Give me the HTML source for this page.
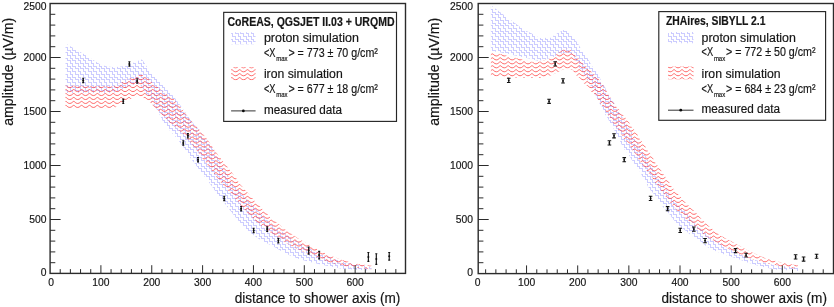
<!DOCTYPE html>
<html><head><meta charset="utf-8"><title>LDF comparison</title>
<style>html,body{margin:0;padding:0;background:#fff;}svg{display:block;will-change:transform;}text{font-family:"Liberation Sans",sans-serif;fill:#161616;stroke:#161616;stroke-width:0.18px;}</style>
</head><body>
<svg width="834" height="307" viewBox="0 0 834 307">
<rect x="0" y="0" width="834" height="307" fill="#ffffff"/>
<defs>
<path id="st" d="M0,0h2.625v2.7h2.625v2.7h2.625v2.7h2.625v2.7h2.625v2.7h2.625v2.7h2.625v2.7h2.625v2.7h2.625v2.7h2.625v2.7h2.625v2.7h2.625v2.7h2.625v2.7h2.625v2.7h2.625v2.7h2.625v2.7h2.625v2.7h2.625v2.7h2.625v2.7h2.625v2.7h2.625v2.7h2.625v2.7h2.625v2.7h2.625v2.7h2.625v2.7h2.625v2.7h2.625v2.7h2.625v2.7h2.625v2.7h2.625v2.7h2.625v2.7h2.625v2.7h2.625v2.7h2.625v2.7h2.625v2.7h2.625v2.7h2.625v2.7h2.625v2.7h2.625v2.7h2.625v2.7h2.625v2.7h2.625v2.7h2.625v2.7h2.625v2.7h2.625v2.7h2.625v2.7h2.625v2.7h2.625v2.7h2.625v2.7h2.625v2.7h2.625v2.7h2.625v2.7h2.625v2.7h2.625v2.7h2.625v2.7h2.625v2.7h2.625v2.7h2.625v2.7h2.625v2.7h2.625v2.7h2.625v2.7h2.625v2.7h2.625v2.7h2.625v2.7h2.625v2.7h2.625v2.7h2.625v2.7h2.625v2.7h2.625v2.7h2.625v2.7h2.625v2.7h2.625v2.7h2.625v2.7h2.625v2.7h2.625v2.7h2.625v2.7h2.625v2.7h2.625v2.7h2.625v2.7h2.625v2.7h2.625v2.7h2.625v2.7h2.625v2.7h2.625v2.7h2.625v2.7h2.625v2.7h2.625v2.7h2.625v2.7h2.625v2.7h2.625v2.7h2.625v2.7h2.625v2.7h2.625v2.7h2.625v2.7h2.625v2.7h2.625v2.7h2.625v2.7h2.625v2.7h2.625v2.7h2.625v2.7h2.625v2.7h2.625v2.7h2.625v2.7h2.625v2.7h2.625v2.7h2.625v2.7"/>
<path id="wv" d="M0,-1.05c1.11,0 1.66,2.10 3.95,2.10c2.29,0 2.84,-2.10 3.95,-2.10c1.11,0 1.66,2.10 3.95,2.10c2.29,0 2.84,-2.10 3.95,-2.10c1.11,0 1.66,2.10 3.95,2.10c2.29,0 2.84,-2.10 3.95,-2.10c1.11,0 1.66,2.10 3.95,2.10c2.29,0 2.84,-2.10 3.95,-2.10c1.11,0 1.66,2.10 3.95,2.10c2.29,0 2.84,-2.10 3.95,-2.10c1.11,0 1.66,2.10 3.95,2.10c2.29,0 2.84,-2.10 3.95,-2.10c1.11,0 1.66,2.10 3.95,2.10c2.29,0 2.84,-2.10 3.95,-2.10c1.11,0 1.66,2.10 3.95,2.10c2.29,0 2.84,-2.10 3.95,-2.10c1.11,0 1.66,2.10 3.95,2.10c2.29,0 2.84,-2.10 3.95,-2.10c1.11,0 1.66,2.10 3.95,2.10c2.29,0 2.84,-2.10 3.95,-2.10c1.11,0 1.66,2.10 3.95,2.10c2.29,0 2.84,-2.10 3.95,-2.10c1.11,0 1.66,2.10 3.95,2.10c2.29,0 2.84,-2.10 3.95,-2.10c1.11,0 1.66,2.10 3.95,2.10c2.29,0 2.84,-2.10 3.95,-2.10c1.11,0 1.66,2.10 3.95,2.10c2.29,0 2.84,-2.10 3.95,-2.10c1.11,0 1.66,2.10 3.95,2.10c2.29,0 2.84,-2.10 3.95,-2.10c1.11,0 1.66,2.10 3.95,2.10c2.29,0 2.84,-2.10 3.95,-2.10c1.11,0 1.66,2.10 3.95,2.10c2.29,0 2.84,-2.10 3.95,-2.10c1.11,0 1.66,2.10 3.95,2.10c2.29,0 2.84,-2.10 3.95,-2.10c1.11,0 1.66,2.10 3.95,2.10c2.29,0 2.84,-2.10 3.95,-2.10c1.11,0 1.66,2.10 3.95,2.10c2.29,0 2.84,-2.10 3.95,-2.10c1.11,0 1.66,2.10 3.95,2.10c2.29,0 2.84,-2.10 3.95,-2.10c1.11,0 1.66,2.10 3.95,2.10c2.29,0 2.84,-2.10 3.95,-2.10c1.11,0 1.66,2.10 3.95,2.10c2.29,0 2.84,-2.10 3.95,-2.10c1.11,0 1.66,2.10 3.95,2.10c2.29,0 2.84,-2.10 3.95,-2.10c1.11,0 1.66,2.10 3.95,2.10c2.29,0 2.84,-2.10 3.95,-2.10c1.11,0 1.66,2.10 3.95,2.10c2.29,0 2.84,-2.10 3.95,-2.10c1.11,0 1.66,2.10 3.95,2.10c2.29,0 2.84,-2.10 3.95,-2.10c1.11,0 1.66,2.10 3.95,2.10c2.29,0 2.84,-2.10 3.95,-2.10c1.11,0 1.66,2.10 3.95,2.10c2.29,0 2.84,-2.10 3.95,-2.10c1.11,0 1.66,2.10 3.95,2.10c2.29,0 2.84,-2.10 3.95,-2.10c1.11,0 1.66,2.10 3.95,2.10c2.29,0 2.84,-2.10 3.95,-2.10c1.11,0 1.66,2.10 3.95,2.10c2.29,0 2.84,-2.10 3.95,-2.10c1.11,0 1.66,2.10 3.95,2.10c2.29,0 2.84,-2.10 3.95,-2.10c1.11,0 1.66,2.10 3.95,2.10c2.29,0 2.84,-2.10 3.95,-2.10c1.11,0 1.66,2.10 3.95,2.10c2.29,0 2.84,-2.10 3.95,-2.10c1.11,0 1.66,2.10 3.95,2.10c2.29,0 2.84,-2.10 3.95,-2.10c1.11,0 1.66,2.10 3.95,2.10c2.29,0 2.84,-2.10 3.95,-2.10c1.11,0 1.66,2.10 3.95,2.10c2.29,0 2.84,-2.10 3.95,-2.10c1.11,0 1.66,2.10 3.95,2.10c2.29,0 2.84,-2.10 3.95,-2.10c1.11,0 1.66,2.10 3.95,2.10c2.29,0 2.84,-2.10 3.95,-2.10c1.11,0 1.66,2.10 3.95,2.10c2.29,0 2.84,-2.10 3.95,-2.10c1.11,0 1.66,2.10 3.95,2.10c2.29,0 2.84,-2.10 3.95,-2.10c1.11,0 1.66,2.10 3.95,2.10c2.29,0 2.84,-2.10 3.95,-2.10c1.11,0 1.66,2.10 3.95,2.10c2.29,0 2.84,-2.10 3.95,-2.10"/>
</defs>
<clipPath id="c1"><polygon points="65.5,43.6 85.0,54.8 100.0,64.3 106.0,66.3 114.0,67.3 126.4,65.9 132.9,63.0 139.0,60.4 141.9,59.6 144.4,62.8 146.6,66.2 149.5,70.9 154.5,76.7 158.2,80.1 163.9,86.6 169.7,92.3 174.0,96.7 187.0,114.5 192.5,122.5 199.6,130.8 206.0,139.1 208.6,142.5 213.9,150.8 218.5,159.1 220.2,162.5 225.0,170.8 230.2,179.1 233.0,182.9 239.5,190.8 246.0,198.7 249.5,202.5 258.0,210.8 265.5,219.1 270.5,222.5 281.0,230.8 292.5,239.1 300.0,243.0 307.0,247.0 315.0,251.3 324.0,255.3 336.0,259.5 350.0,263.5 371.5,267.0 371.5,270.8 342.0,268.7 328.0,266.0 314.0,263.0 299.5,259.3 289.5,255.3 281.5,251.3 274.4,247.0 266.4,243.0 259.0,239.1 247.8,230.8 240.0,222.5 236.9,219.1 230.4,210.8 224.0,202.5 220.5,198.7 215.0,190.8 209.5,182.9 206.6,179.1 200.0,170.8 194.0,162.5 191.2,159.1 186.1,150.8 180.0,142.5 177.6,139.1 170.0,130.8 163.5,122.5 158.9,113.3 155.3,106.8 149.5,99.6 144.0,90.0 140.0,84.5 136.0,84.0 130.0,86.0 122.0,89.5 114.0,92.5 107.0,93.0 65.5,93.0"/></clipPath>
<g clip-path="url(#c1)" fill="none" stroke="#ccccff" stroke-width="1" shape-rendering="crispEdges">
<use href="#st" x="-171.28" y="41.90"/>
<use href="#st" x="-166.03" y="41.90"/>
<use href="#st" x="-160.78" y="41.90"/>
<use href="#st" x="-155.53" y="41.90"/>
<use href="#st" x="-150.28" y="41.90"/>
<use href="#st" x="-145.03" y="41.90"/>
<use href="#st" x="-139.78" y="41.90"/>
<use href="#st" x="-134.53" y="41.90"/>
<use href="#st" x="-129.28" y="41.90"/>
<use href="#st" x="-124.03" y="41.90"/>
<use href="#st" x="-118.78" y="41.90"/>
<use href="#st" x="-113.53" y="41.90"/>
<use href="#st" x="-108.28" y="41.90"/>
<use href="#st" x="-103.03" y="41.90"/>
<use href="#st" x="-97.78" y="41.90"/>
<use href="#st" x="-92.53" y="41.90"/>
<use href="#st" x="-87.28" y="41.90"/>
<use href="#st" x="-82.03" y="41.90"/>
<use href="#st" x="-76.78" y="41.90"/>
<use href="#st" x="-71.53" y="41.90"/>
<use href="#st" x="-66.28" y="41.90"/>
<use href="#st" x="-61.03" y="41.90"/>
<use href="#st" x="-55.78" y="41.90"/>
<use href="#st" x="-50.53" y="41.90"/>
<use href="#st" x="-45.28" y="41.90"/>
<use href="#st" x="-40.03" y="41.90"/>
<use href="#st" x="-34.78" y="41.90"/>
<use href="#st" x="-29.53" y="41.90"/>
<use href="#st" x="-24.28" y="41.90"/>
<use href="#st" x="-19.03" y="41.90"/>
<use href="#st" x="-13.78" y="41.90"/>
<use href="#st" x="-8.53" y="41.90"/>
<use href="#st" x="-3.28" y="41.90"/>
<use href="#st" x="1.97" y="41.90"/>
<use href="#st" x="7.22" y="41.90"/>
<use href="#st" x="12.47" y="41.90"/>
<use href="#st" x="17.72" y="41.90"/>
<use href="#st" x="22.97" y="41.90"/>
<use href="#st" x="28.22" y="41.90"/>
<use href="#st" x="33.47" y="41.90"/>
<use href="#st" x="38.72" y="41.90"/>
<use href="#st" x="43.97" y="41.90"/>
<use href="#st" x="49.22" y="41.90"/>
<use href="#st" x="54.47" y="41.90"/>
<use href="#st" x="59.72" y="41.90"/>
<use href="#st" x="64.97" y="41.90"/>
<use href="#st" x="70.22" y="41.90"/>
<use href="#st" x="75.47" y="41.90"/>
<use href="#st" x="80.72" y="41.90"/>
<use href="#st" x="85.97" y="41.90"/>
<use href="#st" x="91.22" y="41.90"/>
<use href="#st" x="96.47" y="41.90"/>
<use href="#st" x="101.72" y="41.90"/>
<use href="#st" x="106.97" y="41.90"/>
<use href="#st" x="112.22" y="41.90"/>
<use href="#st" x="117.47" y="41.90"/>
<use href="#st" x="122.72" y="41.90"/>
<use href="#st" x="127.97" y="41.90"/>
<use href="#st" x="133.22" y="41.90"/>
<use href="#st" x="138.47" y="41.90"/>
<use href="#st" x="143.72" y="41.90"/>
<use href="#st" x="148.97" y="41.90"/>
<use href="#st" x="154.22" y="41.90"/>
<use href="#st" x="159.47" y="41.90"/>
<use href="#st" x="164.72" y="41.90"/>
<use href="#st" x="169.97" y="41.90"/>
<use href="#st" x="175.22" y="41.90"/>
<use href="#st" x="180.47" y="41.90"/>
<use href="#st" x="185.72" y="41.90"/>
<use href="#st" x="190.97" y="41.90"/>
<use href="#st" x="196.22" y="41.90"/>
<use href="#st" x="201.47" y="41.90"/>
<use href="#st" x="206.72" y="41.90"/>
<use href="#st" x="211.97" y="41.90"/>
<use href="#st" x="217.22" y="41.90"/>
<use href="#st" x="222.47" y="41.90"/>
<use href="#st" x="227.72" y="41.90"/>
<use href="#st" x="232.97" y="41.90"/>
<use href="#st" x="238.22" y="41.90"/>
<use href="#st" x="243.47" y="41.90"/>
<use href="#st" x="248.72" y="41.90"/>
<use href="#st" x="253.97" y="41.90"/>
<use href="#st" x="259.23" y="41.90"/>
<use href="#st" x="264.48" y="41.90"/>
<use href="#st" x="269.73" y="41.90"/>
<use href="#st" x="274.98" y="41.90"/>
<use href="#st" x="280.23" y="41.90"/>
<use href="#st" x="285.48" y="41.90"/>
<use href="#st" x="290.73" y="41.90"/>
<use href="#st" x="295.98" y="41.90"/>
<use href="#st" x="301.23" y="41.90"/>
<use href="#st" x="306.48" y="41.90"/>
<use href="#st" x="311.73" y="41.90"/>
<use href="#st" x="316.98" y="41.90"/>
<use href="#st" x="322.23" y="41.90"/>
<use href="#st" x="327.48" y="41.90"/>
<use href="#st" x="332.73" y="41.90"/>
<use href="#st" x="337.98" y="41.90"/>
<use href="#st" x="343.23" y="41.90"/>
<use href="#st" x="348.48" y="41.90"/>
<use href="#st" x="353.73" y="41.90"/>
<use href="#st" x="358.98" y="41.90"/>
<use href="#st" x="364.23" y="41.90"/>
<use href="#st" x="369.48" y="41.90"/>
<use href="#st" x="374.73" y="41.90"/>
</g>
<clipPath id="c2"><polygon points="65.5,85.6 107.0,86.3 113.7,86.6 122.9,81.5 131.5,77.5 137.6,75.4 141.0,74.4 144.4,75.2 148.1,78.2 152.0,82.3 157.0,86.4 161.5,90.4 166.8,94.3 172.6,97.6 186.4,114.7 192.7,122.5 200.3,130.8 207.1,139.1 209.5,142.5 214.9,150.8 221.2,159.1 223.8,162.5 230.6,170.8 236.7,179.1 239.1,182.9 245.9,190.8 252.8,198.7 255.9,202.5 264.2,210.8 271.8,219.1 276.7,222.5 286.8,230.8 297.5,238.0 307.4,243.7 316.0,248.5 324.8,253.0 334.0,257.0 342.3,259.9 354.7,263.6 371.5,265.8 371.5,269.2 350.0,267.2 331.0,263.0 321.0,259.3 311.8,255.5 302.0,251.3 293.2,247.0 286.0,243.0 280.0,239.1 268.2,230.8 257.3,222.5 253.4,219.1 245.4,210.8 238.6,202.5 235.6,198.7 228.6,190.8 221.4,182.9 217.8,179.1 212.0,170.8 205.8,162.5 203.0,159.1 197.0,150.8 190.4,142.5 187.5,139.1 179.5,130.8 170.0,122.5 161.8,114.7 158.2,110.4 153.8,106.4 150.3,102.5 146.5,99.6 142.5,97.4 138.0,96.7 134.5,97.3 131.5,98.5 122.2,102.5 116.5,106.4 114.4,108.3 65.5,108.3"/></clipPath>
<g clip-path="url(#c2)" fill="none" stroke="#ff3030" stroke-width="0.72">
<use href="#wv" x="50.01" y="66.79"/>
<use href="#wv" x="50.01" y="70.75"/>
<use href="#wv" x="50.01" y="74.71"/>
<use href="#wv" x="50.01" y="78.67"/>
<use href="#wv" x="50.01" y="82.63"/>
<use href="#wv" x="50.01" y="86.59"/>
<use href="#wv" x="50.01" y="90.55"/>
<use href="#wv" x="50.01" y="94.51"/>
<use href="#wv" x="50.01" y="98.47"/>
<use href="#wv" x="50.01" y="102.43"/>
<use href="#wv" x="50.01" y="106.39"/>
<use href="#wv" x="50.01" y="110.35"/>
<use href="#wv" x="50.01" y="114.31"/>
<use href="#wv" x="50.01" y="118.27"/>
<use href="#wv" x="50.01" y="122.23"/>
<use href="#wv" x="50.01" y="126.19"/>
<use href="#wv" x="50.01" y="130.15"/>
<use href="#wv" x="50.01" y="134.11"/>
<use href="#wv" x="50.01" y="138.07"/>
<use href="#wv" x="50.01" y="142.03"/>
<use href="#wv" x="50.01" y="145.99"/>
<use href="#wv" x="50.01" y="149.95"/>
<use href="#wv" x="50.01" y="153.91"/>
<use href="#wv" x="50.01" y="157.87"/>
<use href="#wv" x="50.01" y="161.83"/>
<use href="#wv" x="50.01" y="165.79"/>
<use href="#wv" x="50.01" y="169.75"/>
<use href="#wv" x="50.01" y="173.71"/>
<use href="#wv" x="50.01" y="177.67"/>
<use href="#wv" x="50.01" y="181.63"/>
<use href="#wv" x="50.01" y="185.59"/>
<use href="#wv" x="50.01" y="189.55"/>
<use href="#wv" x="50.01" y="193.51"/>
<use href="#wv" x="50.01" y="197.47"/>
<use href="#wv" x="50.01" y="201.43"/>
<use href="#wv" x="50.01" y="205.39"/>
<use href="#wv" x="50.01" y="209.35"/>
<use href="#wv" x="50.01" y="213.31"/>
<use href="#wv" x="50.01" y="217.27"/>
<use href="#wv" x="50.01" y="221.23"/>
<use href="#wv" x="50.01" y="225.19"/>
<use href="#wv" x="50.01" y="229.15"/>
<use href="#wv" x="50.01" y="233.11"/>
<use href="#wv" x="50.01" y="237.07"/>
<use href="#wv" x="50.01" y="241.03"/>
<use href="#wv" x="50.01" y="244.99"/>
<use href="#wv" x="50.01" y="248.95"/>
<use href="#wv" x="50.01" y="252.91"/>
<use href="#wv" x="50.01" y="256.87"/>
<use href="#wv" x="50.01" y="260.83"/>
<use href="#wv" x="50.01" y="264.79"/>
<use href="#wv" x="50.01" y="268.75"/>
<use href="#wv" x="50.01" y="272.71"/>
<use href="#wv" x="50.01" y="276.67"/>
</g>
<path d="M60.22,273.40 v-4.30 M70.39,273.40 v-4.30 M80.56,273.40 v-4.30 M90.73,273.40 v-4.30 M100.90,273.40 v-8.20 M111.07,273.40 v-4.30 M121.24,273.40 v-4.30 M131.41,273.40 v-4.30 M141.58,273.40 v-4.30 M151.75,273.40 v-8.20 M161.92,273.40 v-4.30 M172.09,273.40 v-4.30 M182.26,273.40 v-4.30 M192.43,273.40 v-4.30 M202.60,273.40 v-8.20 M212.77,273.40 v-4.30 M222.94,273.40 v-4.30 M233.11,273.40 v-4.30 M243.28,273.40 v-4.30 M253.45,273.40 v-8.20 M263.62,273.40 v-4.30 M273.79,273.40 v-4.30 M283.96,273.40 v-4.30 M294.13,273.40 v-4.30 M304.30,273.40 v-8.20 M314.47,273.40 v-4.30 M324.64,273.40 v-4.30 M334.81,273.40 v-4.30 M344.98,273.40 v-4.30 M355.15,273.40 v-8.20 M365.32,273.40 v-4.30 M375.49,273.40 v-4.30 M385.66,273.40 v-4.30 M395.83,273.40 v-4.30 M50.10,262.70 h5.20 M50.10,251.90 h5.20 M50.10,241.10 h5.20 M50.10,230.30 h5.20 M50.10,219.50 h10.50 M50.10,208.70 h5.20 M50.10,197.90 h5.20 M50.10,187.10 h5.20 M50.10,176.30 h5.20 M50.10,165.50 h10.50 M50.10,154.70 h5.20 M50.10,143.90 h5.20 M50.10,133.10 h5.20 M50.10,122.30 h5.20 M50.10,111.50 h10.50 M50.10,100.70 h5.20 M50.10,89.90 h5.20 M50.10,79.10 h5.20 M50.10,68.30 h5.20 M50.10,57.50 h10.50 M50.10,46.70 h5.20 M50.10,35.90 h5.20 M50.10,25.10 h5.20 M50.10,14.30 h5.20" stroke="#2b2b2b" stroke-width="1" fill="none"/>
<rect x="50.10" y="3.50" width="355.40" height="269.90" fill="none" stroke="#2b2b2b" stroke-width="1.4"/>
<text x="51.10" y="285.7" font-size="10.3" text-anchor="middle">0</text>
<text x="100.90" y="285.7" font-size="10.3" text-anchor="middle">100</text>
<text x="151.75" y="285.7" font-size="10.3" text-anchor="middle">200</text>
<text x="202.60" y="285.7" font-size="10.3" text-anchor="middle">300</text>
<text x="253.45" y="285.7" font-size="10.3" text-anchor="middle">400</text>
<text x="304.30" y="285.7" font-size="10.3" text-anchor="middle">500</text>
<text x="355.15" y="285.7" font-size="10.3" text-anchor="middle">600</text>
<text x="46.50" y="275.70" font-size="10.3" text-anchor="end">0</text>
<text x="46.50" y="223.10" font-size="10.3" text-anchor="end">500</text>
<text x="46.50" y="169.10" font-size="10.3" text-anchor="end">1000</text>
<text x="46.50" y="115.10" font-size="10.3" text-anchor="end">1500</text>
<text x="46.50" y="61.10" font-size="10.3" text-anchor="end">2000</text>
<text x="46.50" y="9.90" font-size="10.3" text-anchor="end">2500</text>
<text x="400.30" y="303.1" font-size="14" text-anchor="end" textLength="165.6" lengthAdjust="spacingAndGlyphs">distance to shower axis (m)</text>
<text transform="translate(13.10,125.8) rotate(-90)" font-size="14" textLength="108" lengthAdjust="spacingAndGlyphs">amplitude (µV/m)</text>
<path d="M83.20,78.20 V82.60 M82.20,78.20 h2.00 M82.20,82.60 h2.00 M123.27,99.10 V103.50 M122.27,99.10 h2.00 M122.27,103.50 h2.00 M129.38,61.70 V66.10 M128.38,61.70 h2.00 M128.38,66.10 h2.00 M137.16,78.70 V83.10 M136.16,78.70 h2.00 M136.16,83.10 h2.00 M183.28,140.70 V145.10 M182.28,140.70 h2.00 M182.28,145.10 h2.00 M187.85,133.60 V138.00 M186.85,133.60 h2.00 M186.85,138.00 h2.00 M198.02,157.50 V161.90 M197.02,157.50 h2.00 M197.02,161.90 h2.00 M224.21,196.20 V200.60 M223.21,196.20 h2.00 M223.21,200.60 h2.00 M241.14,206.50 V210.90 M240.14,206.50 h2.00 M240.14,210.90 h2.00 M253.65,228.20 V232.60 M252.65,228.20 h2.00 M252.65,232.60 h2.00 M267.18,226.80 V231.40 M266.18,226.80 h2.00 M266.18,231.40 h2.00 M278.37,238.30 V242.90 M277.37,238.30 h2.00 M277.37,242.90 h2.00 M308.67,247.10 V254.10 M307.67,247.10 h2.00 M307.67,254.10 h2.00 M319.15,251.30 V258.90 M318.15,251.30 h2.00 M318.15,258.90 h2.00 M368.37,252.50 V261.30 M367.37,252.50 h2.00 M367.37,261.30 h2.00 M376.30,253.70 V264.40 M375.30,253.70 h2.00 M375.30,264.40 h2.00 M389.22,252.50 V260.10 M388.22,252.50 h2.00 M388.22,260.10 h2.00" stroke="#111" stroke-width="1.15" fill="none"/>
<circle cx="83.20" cy="80.40" r="1.0" fill="#111"/>
<circle cx="123.27" cy="101.30" r="1.0" fill="#111"/>
<circle cx="129.38" cy="63.90" r="1.0" fill="#111"/>
<circle cx="137.16" cy="80.90" r="1.0" fill="#111"/>
<circle cx="183.28" cy="142.90" r="1.0" fill="#111"/>
<circle cx="187.85" cy="135.80" r="1.0" fill="#111"/>
<circle cx="198.02" cy="159.70" r="1.0" fill="#111"/>
<circle cx="224.21" cy="198.40" r="1.0" fill="#111"/>
<circle cx="241.14" cy="208.70" r="1.0" fill="#111"/>
<circle cx="253.65" cy="230.40" r="1.0" fill="#111"/>
<circle cx="267.18" cy="229.10" r="1.0" fill="#111"/>
<circle cx="278.37" cy="240.60" r="1.0" fill="#111"/>
<circle cx="308.67" cy="250.60" r="1.0" fill="#111"/>
<circle cx="319.15" cy="255.10" r="1.0" fill="#111"/>
<circle cx="368.37" cy="256.90" r="1.0" fill="#111"/>
<circle cx="376.30" cy="259.05" r="1.0" fill="#111"/>
<circle cx="389.22" cy="256.30" r="1.0" fill="#111"/>
<clipPath id="c3"><polygon points="490.9,5.3 506.0,16.6 521.6,28.0 524.6,30.2 530.9,33.1 535.3,35.6 539.7,38.0 552.0,37.8 553.8,35.6 557.8,33.1 563.1,30.2 564.8,29.6 569.5,33.0 572.0,36.2 574.5,38.8 576.3,41.3 578.1,43.8 579.5,46.3 582.4,51.6 586.7,56.6 589.6,62.0 592.5,66.7 595.3,70.3 598.9,75.4 601.0,80.4 604.6,86.1 606.2,90.3 608.6,94.6 611.3,98.6 614.0,102.9 616.2,106.8 619.2,110.7 620.5,114.6 623.6,118.9 626.0,122.9 627.5,126.8 630.8,130.7 632.8,134.6 634.6,138.9 637.6,142.9 639.8,146.8 641.8,150.7 645.0,154.6 647.3,158.9 649.2,162.9 652.4,166.8 654.7,170.7 656.8,174.6 660.2,178.9 662.7,182.9 664.6,186.8 667.6,190.7 669.8,194.6 673.4,198.9 675.8,202.9 679.6,206.8 684.5,210.7 688.0,214.6 690.6,218.9 694.2,222.9 698.0,226.9 703.5,230.8 707.5,234.7 713.5,238.6 719.0,242.6 725.0,246.9 733.5,250.8 741.0,254.7 750.5,258.6 764.0,262.6 776.0,265.5 798.0,267.2 798.0,270.9 775.0,269.4 760.0,266.2 746.0,262.0 737.7,258.8 725.0,254.7 714.7,250.8 707.2,246.9 701.8,242.6 697.0,238.6 690.4,234.7 685.7,230.8 680.5,226.9 676.4,222.9 672.9,218.9 669.7,214.6 666.6,210.7 662.8,206.8 660.8,202.9 657.6,198.9 654.3,194.6 651.0,190.7 648.0,186.8 646.4,182.9 643.9,178.9 641.4,174.6 639.5,170.7 636.9,166.8 633.8,162.9 631.2,158.9 628.7,154.6 625.4,150.7 622.7,146.8 620.9,142.9 619.1,138.9 616.3,134.6 614.6,130.7 612.8,126.8 609.9,122.9 608.2,118.9 605.2,114.6 603.8,110.7 602.0,106.8 599.2,102.9 597.3,98.6 595.3,94.6 592.3,90.3 591.0,86.6 589.0,82.5 586.3,78.6 584.3,74.3 581.5,70.3 578.8,66.9 575.9,62.5 573.8,55.4 566.0,52.5 558.0,54.5 552.0,57.6 545.0,59.4 538.0,60.8 529.0,58.6 514.0,55.2 500.0,52.2 490.9,51.0"/></clipPath>
<g clip-path="url(#c3)" fill="none" stroke="#ccccff" stroke-width="1" shape-rendering="crispEdges">
<use href="#st" x="217.22" y="4.10"/>
<use href="#st" x="222.47" y="4.10"/>
<use href="#st" x="227.72" y="4.10"/>
<use href="#st" x="232.97" y="4.10"/>
<use href="#st" x="238.22" y="4.10"/>
<use href="#st" x="243.47" y="4.10"/>
<use href="#st" x="248.72" y="4.10"/>
<use href="#st" x="253.97" y="4.10"/>
<use href="#st" x="259.23" y="4.10"/>
<use href="#st" x="264.48" y="4.10"/>
<use href="#st" x="269.73" y="4.10"/>
<use href="#st" x="274.98" y="4.10"/>
<use href="#st" x="280.23" y="4.10"/>
<use href="#st" x="285.48" y="4.10"/>
<use href="#st" x="290.73" y="4.10"/>
<use href="#st" x="295.98" y="4.10"/>
<use href="#st" x="301.23" y="4.10"/>
<use href="#st" x="306.48" y="4.10"/>
<use href="#st" x="311.73" y="4.10"/>
<use href="#st" x="316.98" y="4.10"/>
<use href="#st" x="322.23" y="4.10"/>
<use href="#st" x="327.48" y="4.10"/>
<use href="#st" x="332.73" y="4.10"/>
<use href="#st" x="337.98" y="4.10"/>
<use href="#st" x="343.23" y="4.10"/>
<use href="#st" x="348.48" y="4.10"/>
<use href="#st" x="353.73" y="4.10"/>
<use href="#st" x="358.98" y="4.10"/>
<use href="#st" x="364.23" y="4.10"/>
<use href="#st" x="369.48" y="4.10"/>
<use href="#st" x="374.73" y="4.10"/>
<use href="#st" x="379.98" y="4.10"/>
<use href="#st" x="385.23" y="4.10"/>
<use href="#st" x="390.48" y="4.10"/>
<use href="#st" x="395.73" y="4.10"/>
<use href="#st" x="400.98" y="4.10"/>
<use href="#st" x="406.23" y="4.10"/>
<use href="#st" x="411.48" y="4.10"/>
<use href="#st" x="416.73" y="4.10"/>
<use href="#st" x="421.98" y="4.10"/>
<use href="#st" x="427.23" y="4.10"/>
<use href="#st" x="432.48" y="4.10"/>
<use href="#st" x="437.73" y="4.10"/>
<use href="#st" x="442.98" y="4.10"/>
<use href="#st" x="448.23" y="4.10"/>
<use href="#st" x="453.48" y="4.10"/>
<use href="#st" x="458.73" y="4.10"/>
<use href="#st" x="463.98" y="4.10"/>
<use href="#st" x="469.23" y="4.10"/>
<use href="#st" x="474.48" y="4.10"/>
<use href="#st" x="479.73" y="4.10"/>
<use href="#st" x="484.98" y="4.10"/>
<use href="#st" x="490.23" y="4.10"/>
<use href="#st" x="495.48" y="4.10"/>
<use href="#st" x="500.73" y="4.10"/>
<use href="#st" x="505.98" y="4.10"/>
<use href="#st" x="511.23" y="4.10"/>
<use href="#st" x="516.48" y="4.10"/>
<use href="#st" x="521.73" y="4.10"/>
<use href="#st" x="526.98" y="4.10"/>
<use href="#st" x="532.23" y="4.10"/>
<use href="#st" x="537.48" y="4.10"/>
<use href="#st" x="542.73" y="4.10"/>
<use href="#st" x="547.98" y="4.10"/>
<use href="#st" x="553.23" y="4.10"/>
<use href="#st" x="558.48" y="4.10"/>
<use href="#st" x="563.73" y="4.10"/>
<use href="#st" x="568.98" y="4.10"/>
<use href="#st" x="574.23" y="4.10"/>
<use href="#st" x="579.48" y="4.10"/>
<use href="#st" x="584.73" y="4.10"/>
<use href="#st" x="589.98" y="4.10"/>
<use href="#st" x="595.23" y="4.10"/>
<use href="#st" x="600.48" y="4.10"/>
<use href="#st" x="605.73" y="4.10"/>
<use href="#st" x="610.98" y="4.10"/>
<use href="#st" x="616.23" y="4.10"/>
<use href="#st" x="621.48" y="4.10"/>
<use href="#st" x="626.73" y="4.10"/>
<use href="#st" x="631.98" y="4.10"/>
<use href="#st" x="637.23" y="4.10"/>
<use href="#st" x="642.48" y="4.10"/>
<use href="#st" x="647.73" y="4.10"/>
<use href="#st" x="652.98" y="4.10"/>
<use href="#st" x="658.23" y="4.10"/>
<use href="#st" x="663.48" y="4.10"/>
<use href="#st" x="668.73" y="4.10"/>
<use href="#st" x="673.98" y="4.10"/>
<use href="#st" x="679.23" y="4.10"/>
<use href="#st" x="684.48" y="4.10"/>
<use href="#st" x="689.73" y="4.10"/>
<use href="#st" x="694.98" y="4.10"/>
<use href="#st" x="700.23" y="4.10"/>
<use href="#st" x="705.48" y="4.10"/>
<use href="#st" x="710.73" y="4.10"/>
<use href="#st" x="715.98" y="4.10"/>
<use href="#st" x="721.23" y="4.10"/>
<use href="#st" x="726.48" y="4.10"/>
<use href="#st" x="731.73" y="4.10"/>
<use href="#st" x="736.98" y="4.10"/>
<use href="#st" x="742.23" y="4.10"/>
<use href="#st" x="747.48" y="4.10"/>
<use href="#st" x="752.73" y="4.10"/>
<use href="#st" x="757.98" y="4.10"/>
<use href="#st" x="763.23" y="4.10"/>
<use href="#st" x="768.48" y="4.10"/>
<use href="#st" x="773.73" y="4.10"/>
<use href="#st" x="778.98" y="4.10"/>
<use href="#st" x="784.23" y="4.10"/>
<use href="#st" x="789.48" y="4.10"/>
<use href="#st" x="794.73" y="4.10"/>
<use href="#st" x="799.98" y="4.10"/>
<use href="#st" x="805.23" y="4.10"/>
</g>
<clipPath id="c4"><polygon points="490.9,52.3 501.6,54.3 517.2,58.3 530.0,61.6 535.5,62.3 540.0,61.6 552.4,58.0 556.3,54.3 562.3,50.3 566.5,48.6 570.9,50.3 573.8,54.3 578.8,58.6 581.7,62.5 586.5,66.5 589.5,70.3 594.6,74.3 598.2,78.6 600.7,82.5 604.2,86.6 605.9,90.3 608.3,94.6 611.0,98.6 613.8,102.9 616.2,106.8 620.0,110.7 622.4,114.6 626.6,118.9 629.4,122.9 631.4,126.8 635.0,130.7 637.4,134.6 639.6,138.9 643.0,142.9 645.5,146.8 647.6,150.7 651.0,154.6 653.5,158.9 655.4,162.9 658.8,166.8 661.3,170.7 663.5,174.6 667.1,178.9 669.6,182.9 671.6,186.8 675.3,190.7 678.1,194.6 682.8,198.9 685.7,202.9 690.0,206.8 693.8,210.7 698.0,214.6 701.4,218.9 705.7,222.9 709.7,226.9 715.0,230.8 719.0,234.7 725.8,238.6 733.6,242.6 741.5,246.9 748.8,250.8 757.2,254.7 765.5,258.2 781.6,262.4 798.0,265.6 798.0,269.0 782.6,267.0 765.0,262.8 750.0,258.6 741.6,254.7 733.0,250.8 724.5,246.9 717.0,242.6 709.8,238.6 704.0,234.7 700.4,230.8 695.5,226.9 691.5,222.9 686.0,218.9 682.6,214.6 677.5,210.7 673.4,206.8 670.7,202.9 668.2,198.9 664.0,194.6 661.3,190.7 658.7,186.8 655.4,182.9 653.2,178.9 649.8,174.6 646.8,170.7 644.0,166.8 641.0,162.9 638.3,158.9 636.0,154.6 632.9,150.7 630.5,146.8 628.0,142.9 624.3,138.9 621.4,134.6 619.0,130.7 616.0,126.8 613.2,122.9 610.5,118.9 607.5,114.6 605.5,110.7 603.4,106.8 599.8,102.9 597.4,98.6 594.6,94.6 590.1,90.3 588.0,86.6 583.1,82.5 580.2,78.6 575.1,74.3 573.0,70.3 569.0,68.4 565.0,68.4 560.8,70.4 553.8,74.0 548.0,76.4 540.0,78.0 507.0,77.6 490.9,75.8"/></clipPath>
<g clip-path="url(#c4)" fill="none" stroke="#ff3030" stroke-width="0.72">
<use href="#wv" x="476.61" y="43.03"/>
<use href="#wv" x="476.61" y="46.99"/>
<use href="#wv" x="476.61" y="50.95"/>
<use href="#wv" x="476.61" y="54.91"/>
<use href="#wv" x="476.61" y="58.87"/>
<use href="#wv" x="476.61" y="62.83"/>
<use href="#wv" x="476.61" y="66.79"/>
<use href="#wv" x="476.61" y="70.75"/>
<use href="#wv" x="476.61" y="74.71"/>
<use href="#wv" x="476.61" y="78.67"/>
<use href="#wv" x="476.61" y="82.63"/>
<use href="#wv" x="476.61" y="86.59"/>
<use href="#wv" x="476.61" y="90.55"/>
<use href="#wv" x="476.61" y="94.51"/>
<use href="#wv" x="476.61" y="98.47"/>
<use href="#wv" x="476.61" y="102.43"/>
<use href="#wv" x="476.61" y="106.39"/>
<use href="#wv" x="476.61" y="110.35"/>
<use href="#wv" x="476.61" y="114.31"/>
<use href="#wv" x="476.61" y="118.27"/>
<use href="#wv" x="476.61" y="122.23"/>
<use href="#wv" x="476.61" y="126.19"/>
<use href="#wv" x="476.61" y="130.15"/>
<use href="#wv" x="476.61" y="134.11"/>
<use href="#wv" x="476.61" y="138.07"/>
<use href="#wv" x="476.61" y="142.03"/>
<use href="#wv" x="476.61" y="145.99"/>
<use href="#wv" x="476.61" y="149.95"/>
<use href="#wv" x="476.61" y="153.91"/>
<use href="#wv" x="476.61" y="157.87"/>
<use href="#wv" x="476.61" y="161.83"/>
<use href="#wv" x="476.61" y="165.79"/>
<use href="#wv" x="476.61" y="169.75"/>
<use href="#wv" x="476.61" y="173.71"/>
<use href="#wv" x="476.61" y="177.67"/>
<use href="#wv" x="476.61" y="181.63"/>
<use href="#wv" x="476.61" y="185.59"/>
<use href="#wv" x="476.61" y="189.55"/>
<use href="#wv" x="476.61" y="193.51"/>
<use href="#wv" x="476.61" y="197.47"/>
<use href="#wv" x="476.61" y="201.43"/>
<use href="#wv" x="476.61" y="205.39"/>
<use href="#wv" x="476.61" y="209.35"/>
<use href="#wv" x="476.61" y="213.31"/>
<use href="#wv" x="476.61" y="217.27"/>
<use href="#wv" x="476.61" y="221.23"/>
<use href="#wv" x="476.61" y="225.19"/>
<use href="#wv" x="476.61" y="229.15"/>
<use href="#wv" x="476.61" y="233.11"/>
<use href="#wv" x="476.61" y="237.07"/>
<use href="#wv" x="476.61" y="241.03"/>
<use href="#wv" x="476.61" y="244.99"/>
<use href="#wv" x="476.61" y="248.95"/>
<use href="#wv" x="476.61" y="252.91"/>
<use href="#wv" x="476.61" y="256.87"/>
<use href="#wv" x="476.61" y="260.83"/>
<use href="#wv" x="476.61" y="264.79"/>
<use href="#wv" x="476.61" y="268.75"/>
<use href="#wv" x="476.61" y="272.71"/>
<use href="#wv" x="476.61" y="276.67"/>
</g>
<path d="M485.63,273.60 v-4.30 M495.86,273.60 v-4.30 M506.09,273.60 v-4.30 M516.32,273.60 v-4.30 M526.55,273.60 v-8.20 M536.78,273.60 v-4.30 M547.01,273.60 v-4.30 M557.24,273.60 v-4.30 M567.47,273.60 v-4.30 M577.70,273.60 v-8.20 M587.93,273.60 v-4.30 M598.16,273.60 v-4.30 M608.39,273.60 v-4.30 M618.62,273.60 v-4.30 M628.85,273.60 v-8.20 M639.08,273.60 v-4.30 M649.31,273.60 v-4.30 M659.54,273.60 v-4.30 M669.77,273.60 v-4.30 M680.00,273.60 v-8.20 M690.23,273.60 v-4.30 M700.46,273.60 v-4.30 M710.69,273.60 v-4.30 M720.92,273.60 v-4.30 M731.15,273.60 v-8.20 M741.38,273.60 v-4.30 M751.61,273.60 v-4.30 M761.84,273.60 v-4.30 M772.07,273.60 v-4.30 M782.30,273.60 v-8.20 M792.53,273.60 v-4.30 M802.76,273.60 v-4.30 M812.99,273.60 v-4.30 M823.22,273.60 v-4.30 M478.20,262.70 h5.20 M478.20,251.90 h5.20 M478.20,241.10 h5.20 M478.20,230.30 h5.20 M478.20,219.50 h10.50 M478.20,208.70 h5.20 M478.20,197.90 h5.20 M478.20,187.10 h5.20 M478.20,176.30 h5.20 M478.20,165.50 h10.50 M478.20,154.70 h5.20 M478.20,143.90 h5.20 M478.20,133.10 h5.20 M478.20,122.30 h5.20 M478.20,111.50 h10.50 M478.20,100.70 h5.20 M478.20,89.90 h5.20 M478.20,79.10 h5.20 M478.20,68.30 h5.20 M478.20,57.50 h10.50 M478.20,46.70 h5.20 M478.20,35.90 h5.20 M478.20,25.10 h5.20 M478.20,14.30 h5.20" stroke="#2b2b2b" stroke-width="1" fill="none"/>
<rect x="478.20" y="3.50" width="355.30" height="270.10" fill="none" stroke="#2b2b2b" stroke-width="1.4"/>
<text x="477.50" y="285.7" font-size="10.3" text-anchor="middle">0</text>
<text x="526.55" y="285.7" font-size="10.3" text-anchor="middle">100</text>
<text x="577.70" y="285.7" font-size="10.3" text-anchor="middle">200</text>
<text x="628.85" y="285.7" font-size="10.3" text-anchor="middle">300</text>
<text x="680.00" y="285.7" font-size="10.3" text-anchor="middle">400</text>
<text x="731.15" y="285.7" font-size="10.3" text-anchor="middle">500</text>
<text x="782.30" y="285.7" font-size="10.3" text-anchor="middle">600</text>
<text x="472.90" y="275.70" font-size="10.3" text-anchor="end">0</text>
<text x="472.90" y="223.10" font-size="10.3" text-anchor="end">500</text>
<text x="472.90" y="169.10" font-size="10.3" text-anchor="end">1000</text>
<text x="472.90" y="115.10" font-size="10.3" text-anchor="end">1500</text>
<text x="472.90" y="61.10" font-size="10.3" text-anchor="end">2000</text>
<text x="472.90" y="9.90" font-size="10.3" text-anchor="end">2500</text>
<text x="827.00" y="303.1" font-size="14" text-anchor="end" textLength="165.6" lengthAdjust="spacingAndGlyphs">distance to shower axis (m)</text>
<text transform="translate(439.20,125.8) rotate(-90)" font-size="14" textLength="108" lengthAdjust="spacingAndGlyphs">amplitude (µV/m)</text>
<path d="M508.75,78.30 V82.50 M506.95,78.30 h3.60 M506.95,82.50 h3.60 M549.06,99.20 V103.40 M547.26,99.20 h3.60 M547.26,103.40 h3.60 M555.19,61.80 V66.00 M553.39,61.80 h3.60 M553.39,66.00 h3.60 M563.02,78.80 V83.00 M561.22,78.80 h3.60 M561.22,83.00 h3.60 M609.41,140.80 V145.00 M607.61,140.80 h3.60 M607.61,145.00 h3.60 M614.02,133.70 V137.90 M612.22,133.70 h3.60 M612.22,137.90 h3.60 M624.25,157.60 V161.80 M622.45,157.60 h3.60 M622.45,161.80 h3.60 M650.59,196.30 V200.50 M648.79,196.30 h3.60 M648.79,200.50 h3.60 M667.62,206.60 V210.80 M665.82,206.60 h3.60 M665.82,210.80 h3.60 M680.20,228.30 V232.50 M678.40,228.30 h3.60 M678.40,232.50 h3.60 M693.81,227.00 V231.20 M692.01,227.00 h3.60 M692.01,231.20 h3.60 M705.06,238.50 V242.70 M703.26,238.50 h3.60 M703.26,242.70 h3.60 M735.55,248.60 V252.60 M733.75,248.60 h3.60 M733.75,252.60 h3.60 M746.09,253.20 V257.00 M744.29,253.20 h3.60 M744.29,257.00 h3.60 M795.60,254.80 V259.00 M793.80,254.80 h3.60 M793.80,259.00 h3.60 M803.58,256.95 V261.15 M801.78,256.95 h3.60 M801.78,261.15 h3.60 M816.57,254.30 V258.30 M814.77,254.30 h3.60 M814.77,258.30 h3.60" stroke="#111" stroke-width="1.1" fill="none"/>
<circle cx="508.75" cy="80.40" r="0.9" fill="#111"/>
<circle cx="549.06" cy="101.30" r="0.9" fill="#111"/>
<circle cx="555.19" cy="63.90" r="0.9" fill="#111"/>
<circle cx="563.02" cy="80.90" r="0.9" fill="#111"/>
<circle cx="609.41" cy="142.90" r="0.9" fill="#111"/>
<circle cx="614.02" cy="135.80" r="0.9" fill="#111"/>
<circle cx="624.25" cy="159.70" r="0.9" fill="#111"/>
<circle cx="650.59" cy="198.40" r="0.9" fill="#111"/>
<circle cx="667.62" cy="208.70" r="0.9" fill="#111"/>
<circle cx="680.20" cy="230.40" r="0.9" fill="#111"/>
<circle cx="693.81" cy="229.10" r="0.9" fill="#111"/>
<circle cx="705.06" cy="240.60" r="0.9" fill="#111"/>
<circle cx="735.55" cy="250.60" r="0.9" fill="#111"/>
<circle cx="746.09" cy="255.10" r="0.9" fill="#111"/>
<circle cx="795.60" cy="256.90" r="0.9" fill="#111"/>
<circle cx="803.58" cy="259.05" r="0.9" fill="#111"/>
<circle cx="816.57" cy="256.30" r="0.9" fill="#111"/>
<rect x="223.70" y="12.35" width="172.80" height="109.05" fill="#ffffff" stroke="#262626" stroke-width="1.15"/>
<text x="227.50" y="26.00" font-size="12" font-weight="bold" textLength="167.0" lengthAdjust="spacingAndGlyphs">CoREAS, QGSJET II.03 + URQMD</text>
<clipPath id="c5"><polygon points="231.1,32.2 255.6,32.2 255.6,44.3 231.1,44.3"/></clipPath>
<g clip-path="url(#c5)" fill="none" stroke="#ccccff" stroke-width="1" shape-rendering="crispEdges">
<use href="#st" x="206.72" y="31.10"/>
<use href="#st" x="211.97" y="31.10"/>
<use href="#st" x="217.22" y="31.10"/>
<use href="#st" x="222.47" y="31.10"/>
<use href="#st" x="227.72" y="31.10"/>
<use href="#st" x="232.97" y="31.10"/>
<use href="#st" x="238.22" y="31.10"/>
<use href="#st" x="243.47" y="31.10"/>
<use href="#st" x="248.72" y="31.10"/>
<use href="#st" x="253.97" y="31.10"/>
<use href="#st" x="259.23" y="31.10"/>
</g>
<text x="263.90" y="42.30" font-size="12" textLength="95.0" lengthAdjust="spacingAndGlyphs">proton simulation</text>
<text x="263.90" y="56.80" font-size="12.2" textLength="11.6" lengthAdjust="spacingAndGlyphs">&lt;X</text>
<text x="276.30" y="61.10" font-size="6.5" textLength="11.3" lengthAdjust="spacingAndGlyphs">max</text>
<text x="288.40" y="56.80" font-size="12.2" textLength="89.5" lengthAdjust="spacingAndGlyphs">&gt; = 773 ± 70 g/cm²</text>
<clipPath id="c6"><polygon points="231.1,67.3 255.6,67.3 255.6,80.3 231.1,80.3"/></clipPath>
<g clip-path="url(#c6)" fill="none" stroke="#ff3030" stroke-width="0.72">
<use href="#wv" x="215.91" y="62.83"/>
<use href="#wv" x="215.91" y="66.79"/>
<use href="#wv" x="215.91" y="70.75"/>
<use href="#wv" x="215.91" y="74.71"/>
<use href="#wv" x="215.91" y="78.67"/>
<use href="#wv" x="215.91" y="82.63"/>
<use href="#wv" x="215.91" y="86.59"/>
</g>
<text x="263.90" y="77.90" font-size="12" textLength="78.8" lengthAdjust="spacingAndGlyphs">iron simulation</text>
<text x="263.90" y="93.10" font-size="12.2" textLength="11.6" lengthAdjust="spacingAndGlyphs">&lt;X</text>
<text x="276.30" y="97.40" font-size="6.5" textLength="11.3" lengthAdjust="spacingAndGlyphs">max</text>
<text x="288.40" y="93.10" font-size="12.2" textLength="89.5" lengthAdjust="spacingAndGlyphs">&gt; = 677 ± 18 g/cm²</text>
<path d="M231.10,110.90 H255.60" stroke="#333" stroke-width="1"/>
<circle cx="243.35" cy="110.90" r="1.4" fill="#0a0a0a"/>
<text x="263.90" y="113.60" font-size="12" textLength="78.1" lengthAdjust="spacingAndGlyphs">measured data</text>
<rect x="658.80" y="11.60" width="166.80" height="108.70" fill="#ffffff" stroke="#262626" stroke-width="1.15"/>
<text x="666.00" y="25.10" font-size="12" font-weight="bold" textLength="99.4" lengthAdjust="spacingAndGlyphs">ZHAires, SIBYLL 2.1</text>
<clipPath id="c7"><polygon points="668.0,31.9 693.5,31.9 693.5,43.3 668.0,43.3"/></clipPath>
<g clip-path="url(#c7)" fill="none" stroke="#ccccff" stroke-width="1" shape-rendering="crispEdges">
<use href="#st" x="647.73" y="31.10"/>
<use href="#st" x="652.98" y="31.10"/>
<use href="#st" x="658.23" y="31.10"/>
<use href="#st" x="663.48" y="31.10"/>
<use href="#st" x="668.73" y="31.10"/>
<use href="#st" x="673.98" y="31.10"/>
<use href="#st" x="679.23" y="31.10"/>
<use href="#st" x="684.48" y="31.10"/>
<use href="#st" x="689.73" y="31.10"/>
<use href="#st" x="694.98" y="31.10"/>
<use href="#st" x="700.23" y="31.10"/>
</g>
<text x="701.50" y="41.50" font-size="12" textLength="94.4" lengthAdjust="spacingAndGlyphs">proton simulation</text>
<text x="701.50" y="56.30" font-size="12.2" textLength="11.6" lengthAdjust="spacingAndGlyphs">&lt;X</text>
<text x="713.90" y="60.60" font-size="6.5" textLength="11.3" lengthAdjust="spacingAndGlyphs">max</text>
<text x="726.00" y="56.30" font-size="12.2" textLength="89.5" lengthAdjust="spacingAndGlyphs">&gt; = 772 ± 50 g/cm²</text>
<clipPath id="c8"><polygon points="668.0,66.5 693.5,66.5 693.5,79.2 668.0,79.2"/></clipPath>
<g clip-path="url(#c8)" fill="none" stroke="#ff3030" stroke-width="0.72">
<use href="#wv" x="658.31" y="58.87"/>
<use href="#wv" x="658.31" y="62.83"/>
<use href="#wv" x="658.31" y="66.79"/>
<use href="#wv" x="658.31" y="70.75"/>
<use href="#wv" x="658.31" y="74.71"/>
<use href="#wv" x="658.31" y="78.67"/>
<use href="#wv" x="658.31" y="82.63"/>
<use href="#wv" x="658.31" y="86.59"/>
</g>
<text x="701.50" y="77.80" font-size="12" textLength="79.2" lengthAdjust="spacingAndGlyphs">iron simulation</text>
<text x="701.50" y="92.60" font-size="12.2" textLength="11.6" lengthAdjust="spacingAndGlyphs">&lt;X</text>
<text x="713.90" y="96.90" font-size="6.5" textLength="11.3" lengthAdjust="spacingAndGlyphs">max</text>
<text x="726.00" y="92.60" font-size="12.2" textLength="89.5" lengthAdjust="spacingAndGlyphs">&gt; = 684 ± 23 g/cm²</text>
<path d="M668.00,110.20 H693.50" stroke="#333" stroke-width="1"/>
<circle cx="680.75" cy="110.20" r="1.4" fill="#0a0a0a"/>
<text x="701.50" y="112.70" font-size="12" textLength="78.5" lengthAdjust="spacingAndGlyphs">measured data</text>
</svg>
</body></html>
